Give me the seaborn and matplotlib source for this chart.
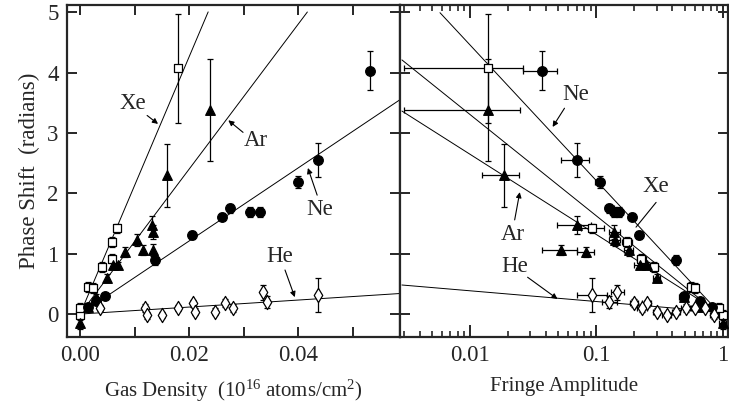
import numpy as np
import pandas as pd
import matplotlib
matplotlib.use("Agg")
import matplotlib.pyplot as plt
import seaborn as sns
from matplotlib.ticker import MultipleLocator, FixedLocator, LogLocator, NullFormatter

# ---------------- data ----------------
# Left panel: phase shift vs. gas density ; right panel: same phase shifts vs. fringe amplitude
xe_density = [0.0, 0.0, 0.0015, 0.0024, 0.0040, 0.0059, 0.0059, 0.0068, 0.0180]
xe_phase = [-0.02, 0.10, 0.45, 0.43, 0.78, 0.92, 1.19, 1.42, 4.07]
xe_phase_err = [0.08, 0.08, 0.08, 0.08, 0.08, 0.08, 0.08, 0.08, 0.90]
xe_amp = [1.00, 0.93, 0.56, 0.60, 0.286, 0.226, 0.175, 0.093, 0.0139]
xe_amp_lo = [0.94, 0.87, 0.52, 0.56, 0.265, 0.21, 0.16, 0.075, 0.0030]
xe_amp_hi = [1.06, 0.99, 0.60, 0.64, 0.31, 0.245, 0.19, 0.115, 0.0262]

ar_density = [0.0, 0.0015, 0.0030, 0.0050, 0.0060, 0.0070, 0.0083, 0.0104, 0.0116,
              0.0132, 0.0134, 0.0134, 0.0160, 0.0239]
ar_phase = [-0.15, 0.12, 0.28, 0.60, 0.81, 0.81, 1.03, 1.22, 1.06, 1.47, 1.06, 1.36, 2.30, 3.38]
ar_phase_err = [0.10, 0.06, 0.06, 0.06, 0.06, 0.06, 0.08, 0.10, 0.08, 0.15, 0.10, 0.12, 0.52, 0.85]
ar_amp = [1.00, 0.68, 0.49, 0.30, 0.25, 0.22, 0.083, 0.14, 0.053, 0.070, 0.18, 0.139, 0.0185, 0.0139]
ar_amp_lo = [0.94, 0.63, 0.45, 0.28, 0.23, 0.20, 0.070, 0.125, 0.0375, 0.049, 0.165, 0.125, 0.0124, 0.0030]
ar_amp_hi = [1.06, 0.73, 0.53, 0.32, 0.27, 0.24, 0.095, 0.155, 0.070, 0.090, 0.195, 0.155, 0.0243, 0.0247]

ne_density = [0.0015, 0.0030, 0.0045, 0.0138, 0.0205, 0.0260, 0.0275, 0.0312, 0.0330,
              0.0400, 0.0437, 0.0532]
ne_phase = [0.12, 0.22, 0.30, 0.90, 1.31, 1.61, 1.75, 1.69, 1.69, 2.19, 2.55, 4.03]
ne_phase_err = [0.05, 0.05, 0.05, 0.08, 0.06, 0.06, 0.08, 0.08, 0.08, 0.10, 0.28, 0.32]
ne_amp = [0.82, 0.66, 0.49, 0.43, 0.218, 0.190, 0.127, 0.152, 0.139, 0.106, 0.0697, 0.0369]
ne_amp_lo = [0.77, 0.62, 0.46, 0.40, 0.205, 0.178, 0.118, 0.142, 0.130, 0.097, 0.053, 0.0262]
ne_amp_hi = [0.87, 0.70, 0.52, 0.46, 0.232, 0.203, 0.137, 0.162, 0.149, 0.116, 0.088, 0.0493]

he_density = [0.0037, 0.0120, 0.0123, 0.0150, 0.0180, 0.0208, 0.0210, 0.0248, 0.0266,
              0.0280, 0.0336, 0.0343, 0.0437]
he_phase = [0.10, 0.10, -0.02, -0.02, 0.10, 0.18, 0.04, 0.04, 0.18, 0.10, 0.36, 0.20, 0.31]
he_phase_err = [0.05, 0.06, 0.06, 0.05, 0.05, 0.06, 0.06, 0.06, 0.07, 0.07, 0.12, 0.10, 0.28]
he_amp = [0.72, 0.51, 0.85, 0.36, 0.60, 0.25, 0.43, 0.30, 0.20, 0.23, 0.146, 0.127, 0.093]
he_amp_lo = [0.67, 0.47, 0.79, 0.33, 0.56, 0.23, 0.40, 0.28, 0.185, 0.21, 0.13, 0.11, 0.070]
he_amp_hi = [0.77, 0.55, 0.91, 0.39, 0.64, 0.27, 0.46, 0.32, 0.215, 0.25, 0.165, 0.145, 0.122]

# linear fits (phase = slope * density), drawn up to the given density
density_slopes = {"Xe": 213.0, "Ar": 120.0, "Ne": 60.5, "He": 5.8}
density_fit_end = {"Xe": 0.0235, "Ar": 0.0417, "Ne": 0.0587, "He": 0.0587}

# log fits (phase = k * log10(a0 / amplitude)), drawn from the given amplitude to 1
amp_fit_k = {"Ne": 2.25, "Xe": 1.68, "Ar": 1.33, "He": 0.178}
amp_fit_a0 = {"Ne": 0.96, "Xe": 0.93, "Ar": 0.98, "He": 1.47}
amp_fit_start = {"Ne": 0.0058, "Xe": 0.0029, "Ar": 0.0029, "He": 0.0029}

density_ticks = [0.00, 0.02, 0.04]
density_tick_labels = ["0.00", "0.02", "0.04"]
amp_ticks = [0.01, 0.1, 1]
amp_tick_labels = ["0.01", "0.1", "1"]
phase_ticks = [0, 1, 2, 3, 4, 5]

# ---------------- style ----------------
sns.set_style("ticks")
plt.rcParams["font.family"] = ["Liberation Serif", "DejaVu Serif"]
plt.rcParams["mathtext.fontset"] = "custom"
plt.rcParams["mathtext.rm"] = "Liberation Serif"
plt.rcParams["mathtext.it"] = "Liberation Serif:italic"
plt.rcParams["mathtext.bf"] = "Liberation Serif:bold"

FS = 15
TICK_FS = 16.5
LABEL_FS = 16.5
fig = plt.figure(figsize=(7.29, 4.15), dpi=100)
ax1 = fig.add_axes([67 / 729, 78 / 415, 333 / 729, 332 / 415])
ax2 = fig.add_axes([400 / 729, 78 / 415, 328 / 729, 332 / 415])

styles = {
    "Xe": dict(marker="s", color="white", s=40),
    "Ar": dict(marker="^", color="black", s=48),
    "Ne": dict(marker="o", color="black", s=48),
    "He": dict(marker="d", color="white", s=52),
}

gases = {
    "Xe": (xe_density, xe_phase, xe_phase_err, xe_amp, xe_amp_lo, xe_amp_hi),
    "Ar": (ar_density, ar_phase, ar_phase_err, ar_amp, ar_amp_lo, ar_amp_hi),
    "Ne": (ne_density, ne_phase, ne_phase_err, ne_amp, ne_amp_lo, ne_amp_hi),
    "He": (he_density, he_phase, he_phase_err, he_amp, he_amp_lo, he_amp_hi),
}

eb_kw = dict(fmt="none", ecolor="black", elinewidth=0.9, capsize=2.5, capthick=0.9, zorder=2)

for gas, (dens, ph, ph_err, amp, lo, hi) in gases.items():
    df = pd.DataFrame({"density": dens, "phase": ph, "err": ph_err,
                       "amp": amp, "lo": lo, "hi": hi})
    st = styles[gas]

    # left: fit line, error bars, markers
    xs = np.linspace(0.0, density_fit_end[gas], 50)
    sns.lineplot(x=xs, y=density_slopes[gas] * xs, color="black", lw=0.7, ax=ax1, zorder=1)
    ax1.errorbar(df["density"], df["phase"], yerr=df["err"], **eb_kw)
    sns.scatterplot(data=df, x="density", y="phase", marker=st["marker"], s=st["s"],
                    color=st["color"], edgecolor="black", linewidth=0.9, ax=ax1, zorder=3)

    # right: fit line, error bars, markers
    xa = np.logspace(np.log10(amp_fit_start[gas]), 0.0, 80)
    sns.lineplot(x=xa, y=amp_fit_k[gas] * np.log10(amp_fit_a0[gas] / xa), color="black",
                 lw=0.7, ax=ax2, zorder=1)
    ax2.errorbar(df["amp"], df["phase"], yerr=df["err"],
                 xerr=[df["amp"] - df["lo"], df["hi"] - df["amp"]], **eb_kw)
    sns.scatterplot(data=df, x="amp", y="phase", marker=st["marker"], s=st["s"],
                    color=st["color"], edgecolor="black", linewidth=0.9, ax=ax2, zorder=3)

# ---------------- axes ----------------
ylim = (-0.38, 5.12)
ax1.set_xlim(-0.0024, 0.0587)
ax1.set_ylim(*ylim)
ax2.set_xscale("log")
ax2.set_xlim(0.0028, 1.1)
ax2.set_ylim(*ylim)

for ax in (ax1, ax2):
    for sp in ax.spines.values():
        sp.set_linewidth(1.6)
        sp.set_visible(True)
    ax.tick_params(which="both", direction="in", top=True, right=True, width=1.4,
                   labelsize=TICK_FS, pad=6)
    ax.tick_params(which="major", length=7)
    ax.yaxis.set_major_locator(FixedLocator(phase_ticks))
    ax.set_xlabel("")
    ax.set_ylabel("")

ax1.xaxis.set_major_locator(FixedLocator(density_ticks))
ax1.set_xticklabels(density_tick_labels)
ax1.xaxis.set_minor_locator(MultipleLocator(0.01))
ax1.tick_params(which="minor", length=7, width=1.4)
ax1.set_yticklabels([str(t) for t in phase_ticks])

ax2.xaxis.set_major_locator(FixedLocator(amp_ticks))
ax2.set_xticklabels(amp_tick_labels)
ax2.xaxis.set_minor_locator(LogLocator(base=10, subs=np.arange(2, 10)))
ax2.xaxis.set_minor_formatter(NullFormatter())
ax2.tick_params(which="minor", length=4, width=1.2)
ax2.tick_params(which="major", length=9)
ax2.tick_params(axis="y", which="major", length=7)
ax2.tick_params(axis="y", labelleft=False)

ax1.set_ylabel("Phase Shift  (radians)", fontsize=LABEL_FS, labelpad=5)
ax1.set_xlabel("Gas Density  (10$^{16}$ atoms/cm$^{2}$)", fontsize=FS, labelpad=8)
ax2.set_xlabel("Fringe Amplitude", fontsize=FS, labelpad=8)

# ---------------- labels with arrows ----------------
arrow = dict(arrowstyle="-|>", color="black", lw=0.8, mutation_scale=8, shrinkA=0, shrinkB=0)
plain = dict(arrowstyle="-", color="black", lw=0.8, shrinkA=0, shrinkB=0)

# (axis, text, text position, arrow tail, arrow head, arrow style)
callouts = [
    (ax1, "Xe", (0.0097, 3.49), (0.0123, 3.29), (0.0143, 3.15), arrow),
    (ax1, "Ar", (0.0323, 2.88), (0.0299, 3.01), (0.0272, 3.21), arrow),
    (ax1, "Ne", (0.0440, 1.74), (0.0435, 1.97), (0.0418, 2.42), arrow),
    (ax1, "He", (0.0367, 0.95), (0.0376, 0.73), (0.0394, 0.28), arrow),
    (ax2, "Ne", (0.0690, 3.63), (0.0560, 3.41), (0.0451, 3.10), arrow),
    (ax2, "Xe", (0.297, 2.12), (0.297, 1.85), (0.206, 1.44), plain),
    (ax2, "Ar", (0.0218, 1.32), (0.0226, 1.56), (0.0248, 2.02), arrow),
    (ax2, "He", (0.0226, 0.78), (0.0286, 0.61), (0.0493, 0.25), arrow),
]
for ax, label, txt, tail, head, props in callouts:
    ax.text(txt[0], txt[1], label, fontsize=LABEL_FS, ha="center", va="center", zorder=4)
    ax.annotate("", xy=head, xytext=tail, arrowprops=props, zorder=4)

fig.savefig("out.png", dpi=100)
